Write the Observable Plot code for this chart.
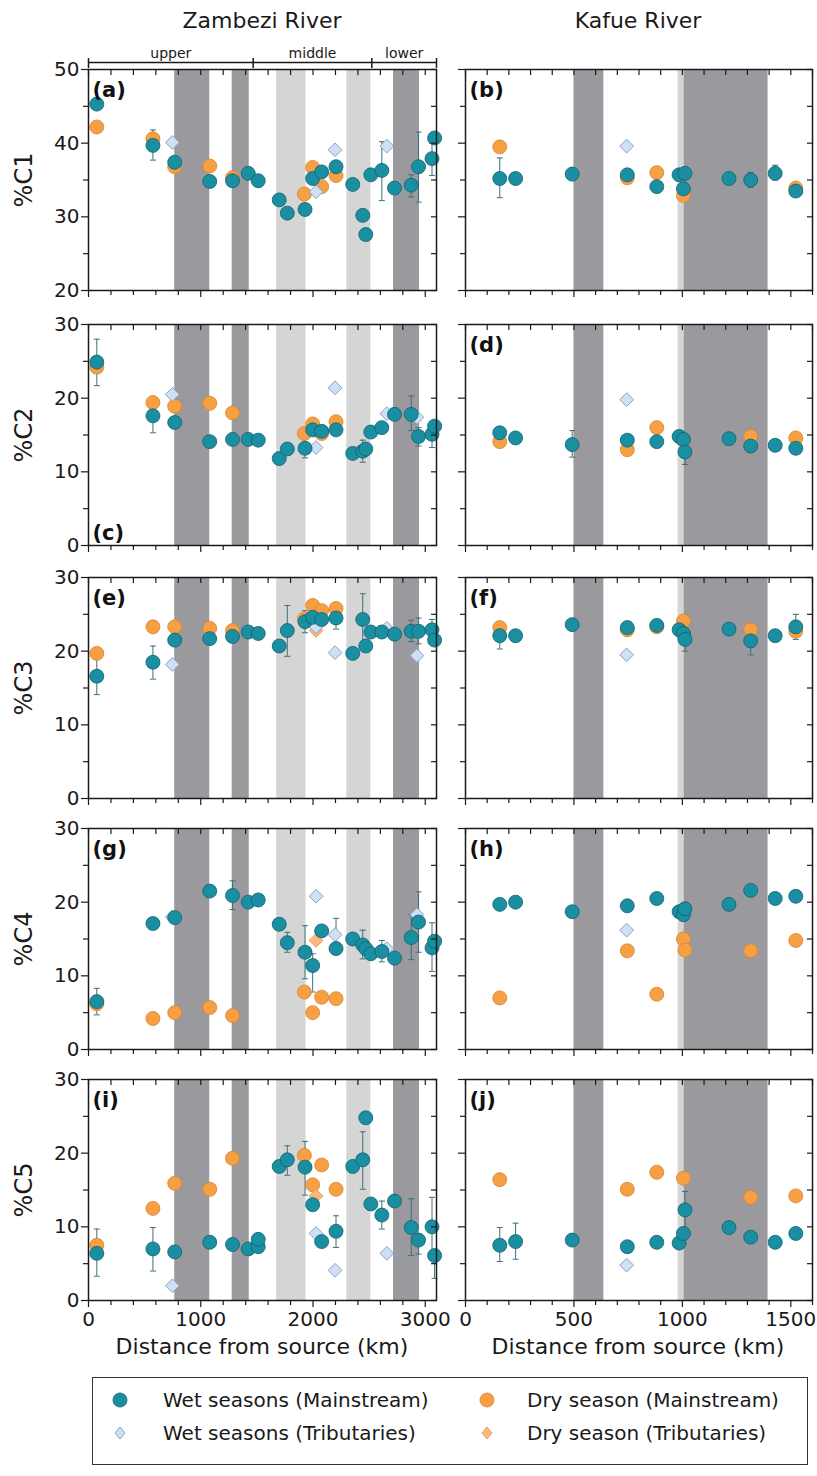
<!DOCTYPE html>
<html><head><meta charset="utf-8">
<script src="https://cdn.jsdelivr.net/npm/d3@7"></script>
<script src="https://cdn.jsdelivr.net/npm/@observablehq/plot@0.6"></script>
<style>
body{margin:0;background:#fff;}
#root{position:relative;width:817px;height:1476px;font-family:"DejaVu Sans",sans-serif;color:#1a1a1a;overflow:hidden;}
.abs{position:absolute;white-space:nowrap;line-height:1;}
svg{overflow:visible;}
</style></head><body><div id="root"></div>
<script>
// ---------------- DATA ----------------
const components = ["C1","C2","C3","C4","C5"];
const zambeziLetters = ["a","c","e","g","i"];
const kafueLetters = ["b","d","f","h","j"];

// Zambezi, wet seasons, mainstream (distance km, values per component)
const zambeziKm = [74, 574, 768, 1080, 1283, 1423, 1512, 1699, 1771, 1929, 1997, 2077, 2205, 2354, 2443, 2470, 2515, 2613, 2726, 2875, 2940, 3060, 3083];
const zambeziWetC1 = [45.3, 39.7, 37.4, 34.8, 34.9, 35.9, 34.9, 32.3, 30.5, 31.0, 35.2, 36.1, 36.8, 34.4, 30.2, 27.6, 35.7, 36.3, 33.9, 34.3, 36.8, 37.9, 40.7];
const zambeziWetC2 = [24.9, 17.6, 16.7, 14.1, 14.4, 14.4, 14.3, 11.8, 13.1, 13.2, 15.7, 15.5, 15.7, 12.5, 12.8, 13.1, 15.4, 16.0, 17.8, 17.8, 14.8, 15.1, 16.2];
const zambeziWetC3 = [16.6, 18.5, 21.5, 21.7, 22.0, 22.6, 22.4, 20.7, 22.8, 24.0, 24.6, 24.3, 24.5, 19.7, 24.3, 20.7, 22.6, 22.6, 22.3, 22.7, 22.7, 22.9, 21.5];
const zambeziWetC4 = [6.5, 17.1, 17.9, 21.5, 20.9, 20.0, 20.3, 17.0, 14.5, 13.2, 11.4, 16.1, 13.7, 15.0, 14.2, 13.7, 13.0, 13.3, 12.4, 15.2, 17.3, 13.8, 14.7];
const zambeziWetC5 = [6.4, 7.0, 6.6, 7.9, 7.6, 7.0, 7.3, 18.2, 19.1, 18.1, 13.0, 8.0, 9.4, 18.2, 19.1, 24.8, 13.1, 11.6, 13.5, 9.9, 8.2, 10.0, 6.1];
const zambeziWetExtra = [["C5", 1512, 8.3]];
// error bars [km, low, high]
const zambeziErrC1 = [[574,37.7,41.8],[2613,32.2,40.2],[2875,32.7,35.7],[2940,32.0,41.5],[3060,35.6,40.0]];
const zambeziErrC2 = [[74,21.7,28.0],[574,15.3,19.5],[1929,11.9,14.5],[2443,11.3,14.3],[2875,15.6,20.3],[2940,13.5,16.0],[3060,13.3,16.0]];
const zambeziErrC3 = [[74,14.1,19.0],[574,16.2,20.7],[1771,19.3,26.2],[1929,22.5,25.5],[2205,23.0,26.0],[2443,20.9,27.8],[2875,21.3,24.2],[2940,21.0,24.5],[3060,21.5,24.3]];
const zambeziErrC4 = [[74,4.7,8.3],[1283,19.0,22.9],[1771,13.2,15.9],[1929,9.6,16.8],[1997,7.8,13.0],[2205,13.5,17.8],[2443,12.3,16.2],[2613,11.9,14.8],[2875,12.2,18.3],[2940,13.2,21.4],[3060,10.6,17.2]];
const zambeziErrC5 = [[74,3.3,9.7],[574,4.0,9.9],[1771,17.0,21.0],[1929,14.3,21.6],[2205,7.2,11.5],[2443,15.1,22.9],[2613,9.7,13.5],[2875,6.1,13.8],[2940,6.3,8.5],[3060,5.7,14.0],[3083,3.0,6.1]];

// Zambezi, dry season, mainstream
const zambeziDryKm = [74, 574, 768, 1080, 1283, 1923, 1997, 2077, 2205];
const zambeziDryC1 = [42.2, 40.6, 36.8, 36.9, 35.3, 33.1, 36.7, 34.1, 35.6];
const zambeziDryC2 = [24.2, 19.4, 18.9, 19.3, 18.0, 15.2, 16.5, 15.2, 16.8];
const zambeziDryC3 = [19.7, 23.3, 23.3, 23.1, 22.8, 24.4, 26.2, 25.5, 25.8];
const zambeziDryC4 = [6.2, 4.2, 5.0, 5.7, 4.6, 7.8, 5.0, 7.1, 6.9];
const zambeziDryC5 = [7.5, 12.5, 15.9, 15.1, 19.3, 19.7, 15.7, 18.4, 15.1];

// Zambezi, wet seasons, tributaries
const zambeziTribKm = [747, 2027, 2196, 2658, 2926];
const zambeziTribC1 = [40.1, 33.4, 39.1, 39.6, null];
const zambeziTribC2 = [20.5, 13.3, 21.4, 17.9, 17.4];
const zambeziTribC3 = [18.2, 23.3, 19.8, 23.1, 19.4];
const zambeziTribC4 = [18.0, 20.8, 15.6, 13.7, 18.3];
const zambeziTribC5 = [2.0, 9.1, 4.1, 6.4, null];

// Zambezi, dry season, tributaries
const zambeziDryTribKm = [2027];
const zambeziDryTribC1 = [null];
const zambeziDryTribC2 = [null];
const zambeziDryTribC3 = [22.8];
const zambeziDryTribC4 = [14.8];
const zambeziDryTribC5 = [14.2];

// Kafue, wet seasons, mainstream
const kafueKm = [158, 231, 492, 746, 882, 985, 1005, 1012, 1215, 1315, 1428, 1523];
const kafueWetC1 = [35.2, 35.2, 35.8, 35.7, 34.1, 35.7, 33.8, 35.9, 35.2, 35.0, 35.9, 33.5];
const kafueWetC2 = [15.3, 14.6, 13.7, 14.3, 14.1, 14.8, 14.4, 12.7, 14.5, 13.5, 13.6, 13.2];
const kafueWetC3 = [22.1, 22.1, 23.6, 23.2, 23.5, 22.9, 22.4, 21.6, 23.0, 21.4, 22.1, 23.3];
const kafueWetC4 = [19.7, 20.0, 18.7, 19.5, 20.5, 18.7, 18.3, 19.1, 19.7, 21.6, 20.5, 20.8];
const kafueWetC5 = [7.5, 8.0, 8.2, 7.3, 7.9, 7.8, 9.1, 12.3, 9.9, 8.6, 7.9, 9.1];
const kafueErrC1 = [[158,32.6,38.0],[492,35.0,36.6],[882,33.3,34.8],[1012,34.5,36.5],[1315,34.0,36.0],[1428,35.0,37.0]];
const kafueErrC2 = [[492,12.0,15.6],[746,13.7,15.0],[1012,11.0,14.4]];
const kafueErrC3 = [[158,20.3,23.9],[1012,20.0,23.0],[1315,19.5,23.0],[1523,21.6,25.0]];
const kafueErrC4 = [];
const kafueErrC5 = [[158,5.3,9.9],[231,5.6,10.5],[1012,9.0,14.8],[1523,8.4,9.9]];

// Kafue, dry season, mainstream
const kafueDryKm = [158, 746, 882, 1005, 1012, 1315, 1523];
const kafueDryC1 = [39.5, 35.3, 36.0, 32.9, null, null, 33.9];
const kafueDryC2 = [14.1, 13.0, 16.0, 14.3, null, 14.8, 14.6];
const kafueDryC3 = [23.2, 22.9, 23.3, 24.1, null, 22.9, 22.7];
const kafueDryC4 = [7.0, 13.4, 7.5, 15.0, 13.5, 13.4, 14.8];
const kafueDryC5 = [16.4, 15.1, 17.4, 16.6, null, 14.0, 14.2];

// Kafue, wet seasons, tributaries
const kafueTribKm = [743];
const kafueTribC1 = [39.6];
const kafueTribC2 = [19.8];
const kafueTribC3 = [19.5];
const kafueTribC4 = [16.2];
const kafueTribC5 = [4.8];

// shaded stretches [start km, end km, tone]
const zambeziBands = [[768,1080,"dark"],[1280,1432,"dark"],[1676,1938,"light"],[2301,2515,"light"],[2717,2949,"dark"]];
const kafueBands = [[500,638,"dark"],[980,1008,"light"],[1008,1395,"dark"]];
// Zambezi reaches
const reachNames = ["upper","middle","lower"];
const reachStart = [0, 1467, 2524];
const reachEnd = [1467, 2524, 3100];

// ticks
const zambeziXDomain = [0, 3100];
const kafueXDomain = [0, 1600];
const zambeziXMajor = [0, 1000, 2000, 3000];
const kafueXMajor = [0, 500, 1000, 1500];
const zambeziXStep = 200;
const kafueXStep = 100;
const c1YDomain = [20, 50];
const otherYDomain = [0, 30];
const c1YMajor = [20, 30, 40, 50];
const c1YMinor = [25, 35, 45];
const otherYMajor = [0, 10, 20, 30];
const otherYMinor = [5, 15, 25];

const legendLabels = ["Wet seasons (Mainstream)","Dry season (Mainstream)","Wet seasons (Tributaries)","Dry season (Tributaries)"];

// ---------------- STYLE ----------------
const TEAL = "#1a8fa2", TEAL_S = "#0f5f6d";
const ORANGE = "#f7a043", ORANGE_S = "#d7832f";
const LBLUE = "#cde0f5", LBLUE_S = "#8aa2c2";
const LORANGE = "#f8b87a", LORANGE_S = "#df9353";
const ERR = "#3f6f7a";
const DARK = "#9a9a9e", LIGHT = "#d5d5d5";

const capSymbol = {draw(ctx, size){ const w = Math.sqrt(size); ctx.moveTo(-w/2, 0); ctx.lineTo(w/2, 0); }};

const root = document.getElementById("root");
function place(el, left, top){ el.style.position = "absolute"; el.style.left = left + "px"; el.style.top = top + "px"; root.appendChild(el); }
function div(text, left, top, css){ const d = document.createElement("div"); d.className = "abs"; d.textContent = text; d.style.left = left+"px"; d.style.top = top+"px"; Object.assign(d.style, css||{}); root.appendChild(d); return d; }

const lookup = {
  zambezi: {km: zambeziKm, wet: [zambeziWetC1,zambeziWetC2,zambeziWetC3,zambeziWetC4,zambeziWetC5],
    err: [zambeziErrC1,zambeziErrC2,zambeziErrC3,zambeziErrC4,zambeziErrC5],
    dryKm: zambeziDryKm, dry: [zambeziDryC1,zambeziDryC2,zambeziDryC3,zambeziDryC4,zambeziDryC5],
    tribKm: zambeziTribKm, trib: [zambeziTribC1,zambeziTribC2,zambeziTribC3,zambeziTribC4,zambeziTribC5],
    dryTribKm: zambeziDryTribKm, dryTrib: [zambeziDryTribC1,zambeziDryTribC2,zambeziDryTribC3,zambeziDryTribC4,zambeziDryTribC5],
    bands: zambeziBands, letters: zambeziLetters, xDomain: zambeziXDomain, xMajor: zambeziXMajor, xStep: zambeziXStep},
  kafue: {km: kafueKm, wet: [kafueWetC1,kafueWetC2,kafueWetC3,kafueWetC4,kafueWetC5],
    err: [kafueErrC1,kafueErrC2,kafueErrC3,kafueErrC4,kafueErrC5],
    dryKm: kafueDryKm, dry: [kafueDryC1,kafueDryC2,kafueDryC3,kafueDryC4,kafueDryC5],
    tribKm: kafueTribKm, trib: [kafueTribC1,kafueTribC2,kafueTribC3,kafueTribC4,kafueTribC5],
    dryTribKm: [], dryTrib: [[],[],[],[],[]],
    bands: kafueBands, letters: kafueLetters, xDomain: kafueXDomain, xMajor: kafueXMajor, xStep: kafueXStep}
};

const pts = (kms, vals) => kms.map((km,i)=>({km, v: vals[i]})).filter(d => d.v != null);

const plotTops = [69, 324, 577, 828, 1079];
const plotH = 221;

function panel(river, ci){
  const L = lookup[river];
  const isLeft = river === "zambezi";
  const last = ci === 4;
  const yDom = ci === 0 ? c1YDomain : otherYDomain;
  const yMajor = ci === 0 ? c1YMajor : otherYMajor;
  const yMinor = ci === 0 ? c1YMinor : otherYMinor;
  const xAll = d3.range(L.xDomain[0], L.xDomain[1] + 1, L.xStep);
  const xMinor = xAll.filter(v => !L.xMajor.includes(v));
  const wet = pts(L.km, L.wet[ci]);
  if (isLeft) zambeziWetExtra.filter(e => e[0] === components[ci]).forEach(e => wet.push({km: e[1], v: e[2]}));
  const dry = pts(L.dryKm, L.dry[ci]);
  const trib = pts(L.tribKm, L.trib[ci]);
  const dryTrib = pts(L.dryTribKm, L.dryTrib[ci]);
  const err = L.err[ci].map(([km, lo, hi]) => ({km, lo, hi}));
  const caps = err.flatMap(d => [{km: d.km, v: d.lo}, {km: d.km, v: d.hi}]);
  const letter = L.letters[ci];
  const bottomLabel = letter === "c";
  const marginBottom = last ? 40 : 12;
  const W = isLeft ? 450 : 377;
  const mL = isLeft ? 88 : 25, mR = isLeft ? 14 : 5;
  const plot = Plot.plot({
    width: W, height: 12 + plotH + marginBottom,
    marginLeft: mL, marginRight: mR, marginTop: 12, marginBottom,
    x: {domain: L.xDomain, label: null},
    y: {domain: yDom, label: null},
    style: {fontFamily: "DejaVu Sans, sans-serif", fontSize: "20px", background: "transparent", color: "#1a1a1a", overflow: "visible"},
    marks: [
      Plot.rect(L.bands, {x1: d => d[0], x2: d => d[1], y1: yDom[0], y2: yDom[1], fill: d => d[2] === "dark" ? DARK : LIGHT}),
      Plot.ruleX(err, {x: "km", y1: "lo", y2: "hi", stroke: ERR, strokeWidth: 1}),
      Plot.dot(caps, {x: "km", y: "v", symbol: capSymbol, r: 3.4, stroke: ERR, strokeWidth: 1, fill: "none"}),
      Plot.dot(dry, {x: "km", y: "v", r: 7, fill: ORANGE, stroke: ORANGE_S, strokeWidth: 0.8}),
      Plot.dot(dryTrib, {x: "km", y: "v", symbol: "diamond2", r: 6.2, fill: LORANGE, stroke: LORANGE_S, strokeWidth: 0.8}),
      Plot.dot(trib, {x: "km", y: "v", symbol: "diamond2", r: 6.2, fill: LBLUE, stroke: LBLUE_S, strokeWidth: 1}),
      Plot.dot(wet, {x: "km", y: "v", r: 7, fill: TEAL, stroke: TEAL_S, strokeWidth: 0.8}),
      Plot.frame({stroke: "#1a1a1a", strokeWidth: 1.5}),
      Plot.axisY({ticks: yMajor, anchor: "left", tickSize: 7, tickPadding: 2, label: null, tickFormat: isLeft ? (d => String(d)) : (() => ""), strokeWidth: 1.2}),
      Plot.axisY({ticks: yMinor, anchor: "left", tickSize: 5, label: null, tickFormat: () => "", strokeWidth: 1.2}),
      Plot.axisY({ticks: yMajor.concat(yMinor), anchor: "right", tickSize: 6, insetRight: 6, label: null, tickFormat: () => "", strokeWidth: 1.2}),
      Plot.axisX({ticks: L.xMajor, anchor: "bottom", tickSize: 7, tickPadding: 4, label: null, tickFormat: last ? (d => String(d)) : (() => ""), strokeWidth: 1.2}),
      Plot.axisX({ticks: xMinor, anchor: "bottom", tickSize: 5, label: null, tickFormat: () => "", strokeWidth: 1.2}),
      Plot.axisX({ticks: xAll, anchor: "top", tickSize: 5, insetTop: 5, label: null, tickFormat: () => "", strokeWidth: 1.2}),
      Plot.text([`(${letter})`], {text: d => d, frameAnchor: bottomLabel ? "bottom-left" : "top-left", lineAnchor: bottomLabel ? "bottom" : "top",
        textAnchor: "start", dx: 4, dy: bottomLabel ? -6 : 13, fontWeight: "bold", fontSize: 21, fill: "#111"})
    ]
  });
  place(plot, isLeft ? 0 : 440, plotTops[ci] - 12);
}

components.forEach((c, ci) => { panel("zambezi", ci); panel("kafue", ci); });

// reaches bracket above panel (a)
const reaches = reachNames.map((name, i) => ({name, start: reachStart[i], end: reachEnd[i]}));
const bracket = Plot.plot({
  width: 450, height: 30, marginLeft: 88, marginRight: 14, marginTop: 20, marginBottom: 0,
  x: {domain: zambeziXDomain, axis: null}, y: {domain: [0, 1], axis: null},
  style: {fontFamily: "DejaVu Sans, sans-serif", fontSize: "14px", background: "transparent", color: "#1a1a1a", overflow: "visible"},
  marks: [
    Plot.ruleY([0.6], {x1: zambeziXDomain[0], x2: zambeziXDomain[1], stroke: "#1a1a1a", strokeWidth: 1.5}),
    Plot.tickX(reachStart.concat([zambeziXDomain[1]]), {x: d => d, stroke: "#1a1a1a", strokeWidth: 1.5}),
    Plot.text(reaches, {x: d => (d.start + d.end) / 2, text: "name", frameAnchor: "top", lineAnchor: "bottom", dy: -1, fontSize: 14, fill: "#1a1a1a"})
  ]
});
place(bracket, 0, 38);

// column titles
div("Zambezi River", 262, 10, {fontSize: "22px", transform: "translateX(-50%)"});
div("Kafue River", 638, 10, {fontSize: "22px", transform: "translateX(-50%)"});

// y labels
components.forEach((c, ci) => {
  const cy = plotTops[ci] + plotH / 2;
  div("%" + c, 24, cy, {fontSize: "24px", transform: "translate(-50%,-50%) rotate(-90deg)"});
});

// x-axis titles
div("Distance from source (km)", 262, 1336, {fontSize: "22px", transform: "translateX(-50%)"});
div("Distance from source (km)", 638, 1336, {fontSize: "22px", transform: "translateX(-50%)"});

// legend
const box = document.createElement("div");
Object.assign(box.style, {position: "absolute", left: "92px", top: "1377px", width: "716px", height: "88px", border: "1.3px solid #333", boxSizing: "border-box"});
root.appendChild(box);
const legendMarks = [
  `<circle cx="10" cy="10" r="7" fill="${TEAL}" stroke="${TEAL_S}" stroke-width="0.8"/>`,
  `<circle cx="10" cy="10" r="7" fill="${ORANGE}" stroke="${ORANGE_S}" stroke-width="0.8"/>`,
  `<path d="M10 4 L15 10 L10 16 L5 10 Z" fill="${LBLUE}" stroke="${LBLUE_S}" stroke-width="1"/>`,
  `<path d="M10 4 L15 10 L10 16 L5 10 Z" fill="${LORANGE}" stroke="${LORANGE_S}" stroke-width="0.8"/>`
];
const legendX = [120, 487], legendTextX = [163, 527], legendY = [1400, 1433];
legendLabels.forEach((lab, i) => {
  const col = i % 2, row = Math.floor(i / 2);
  const s = document.createElementNS("http://www.w3.org/2000/svg", "svg");
  s.setAttribute("width", 20); s.setAttribute("height", 20);
  s.innerHTML = legendMarks[i];
  place(s, legendX[col] - 10, legendY[row] - 10);
  div(lab, legendTextX[col], legendY[row], {fontSize: "20px", transform: "translateY(-50%)"});
});
</script></body></html>
